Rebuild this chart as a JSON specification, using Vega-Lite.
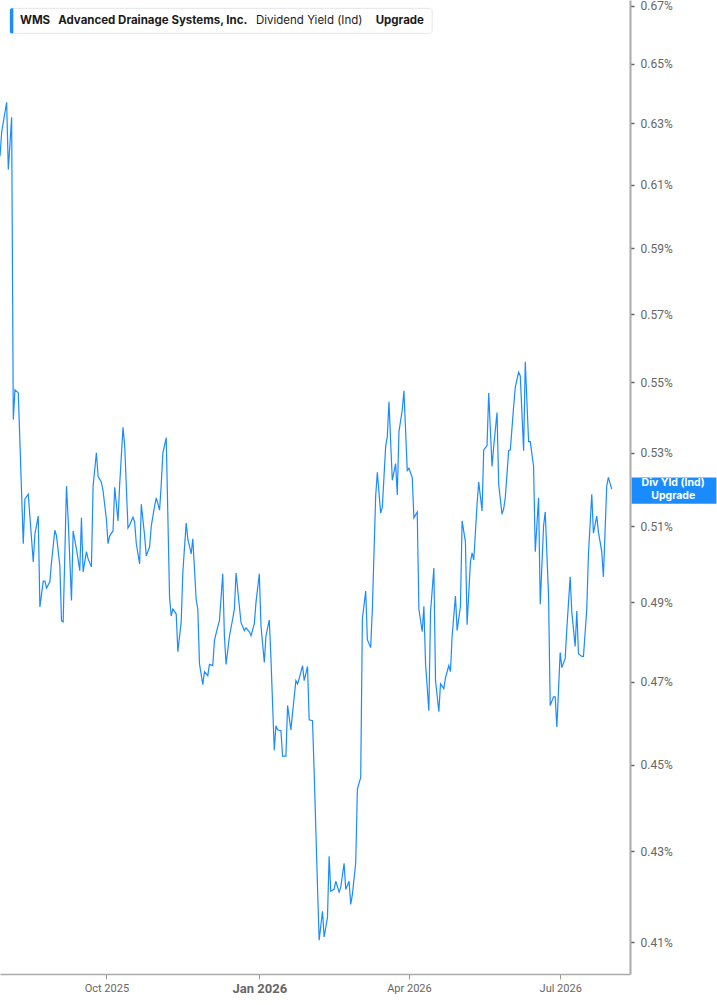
{
  "$schema": "https://vega.github.io/schema/vega-lite/v6.json",
  "width": 630,
  "height": 974,
  "autosize": {"type": "none"},
  "padding": {"left": 0, "top": 0, "right": 87, "bottom": 31},
  "background": "white",
  "config": {"view": {"stroke": null}, "font": "Roboto"},
  "data": {"values": [
    {"date":"2025-07-29","yield":0.6192},{"date":"2025-07-30","yield":0.6271},{"date":"2025-08-02","yield":0.6370},{"date":"2025-08-03","yield":0.6149},
    {"date":"2025-08-05","yield":0.6320},{"date":"2025-08-06","yield":0.5393},{"date":"2025-08-07","yield":0.5478},{"date":"2025-08-09","yield":0.5469},
    {"date":"2025-08-12","yield":0.5053},{"date":"2025-08-13","yield":0.5173},{"date":"2025-08-15","yield":0.5186},{"date":"2025-08-18","yield":0.5005},
    {"date":"2025-08-19","yield":0.5079},{"date":"2025-08-21","yield":0.5127},{"date":"2025-08-22","yield":0.4888},{"date":"2025-08-24","yield":0.4955},
    {"date":"2025-08-25","yield":0.4955},{"date":"2025-08-26","yield":0.4937},{"date":"2025-08-28","yield":0.4953},{"date":"2025-08-29","yield":0.5005},
    {"date":"2025-08-31","yield":0.5089},{"date":"2025-09-01","yield":0.5074},{"date":"2025-09-03","yield":0.4995},{"date":"2025-09-04","yield":0.4853},
    {"date":"2025-09-05","yield":0.4850},{"date":"2025-09-07","yield":0.5208},{"date":"2025-09-08","yield":0.5119},{"date":"2025-09-10","yield":0.4905},
    {"date":"2025-09-11","yield":0.5087},{"date":"2025-09-13","yield":0.5039},{"date":"2025-09-15","yield":0.4982},{"date":"2025-09-16","yield":0.5122},
    {"date":"2025-09-17","yield":0.4979},{"date":"2025-09-19","yield":0.5032},{"date":"2025-09-20","yield":0.5013},{"date":"2025-09-22","yield":0.4992},
    {"date":"2025-09-23","yield":0.5208},{"date":"2025-09-25","yield":0.5300},{"date":"2025-09-26","yield":0.5235},{"date":"2025-09-28","yield":0.5219},
    {"date":"2025-09-29","yield":0.5195},{"date":"2025-10-01","yield":0.5119},{"date":"2025-10-02","yield":0.5053},{"date":"2025-10-03","yield":0.5074},
    {"date":"2025-10-05","yield":0.5087},{"date":"2025-10-06","yield":0.5205},{"date":"2025-10-08","yield":0.5114},{"date":"2025-10-09","yield":0.5213},
    {"date":"2025-10-11","yield":0.5371},{"date":"2025-10-12","yield":0.5320},{"date":"2025-10-14","yield":0.5095},{"date":"2025-10-15","yield":0.5103},
    {"date":"2025-10-17","yield":0.5124},{"date":"2025-10-18","yield":0.5111},{"date":"2025-10-19","yield":0.5053},{"date":"2025-10-21","yield":0.5000},
    {"date":"2025-10-22","yield":0.5159},{"date":"2025-10-24","yield":0.5074},{"date":"2025-10-25","yield":0.5021},{"date":"2025-10-27","yield":0.5045},
    {"date":"2025-10-28","yield":0.5100},{"date":"2025-10-30","yield":0.5154},{"date":"2025-10-31","yield":0.5176},{"date":"2025-11-02","yield":0.5143},
    {"date":"2025-11-03","yield":0.5213},{"date":"2025-11-04","yield":0.5300},{"date":"2025-11-06","yield":0.5342},{"date":"2025-11-08","yield":0.4913},
    {"date":"2025-11-09","yield":0.4865},{"date":"2025-11-10","yield":0.4883},{"date":"2025-11-12","yield":0.4870},{"date":"2025-11-13","yield":0.4775},
    {"date":"2025-11-15","yield":0.4850},{"date":"2025-11-16","yield":0.4979},{"date":"2025-11-18","yield":0.5108},{"date":"2025-11-19","yield":0.5066},
    {"date":"2025-11-21","yield":0.5026},{"date":"2025-11-22","yield":0.5066},{"date":"2025-11-24","yield":0.4908},{"date":"2025-11-25","yield":0.4883},
    {"date":"2025-11-26","yield":0.4745},{"date":"2025-11-28","yield":0.4693},{"date":"2025-11-29","yield":0.4725},{"date":"2025-12-01","yield":0.4715},
    {"date":"2025-12-02","yield":0.4743},{"date":"2025-12-04","yield":0.4740},{"date":"2025-12-05","yield":0.4803},{"date":"2025-12-07","yield":0.4838},
    {"date":"2025-12-08","yield":0.4853},{"date":"2025-12-10","yield":0.4974},{"date":"2025-12-11","yield":0.4815},{"date":"2025-12-12","yield":0.4743},
    {"date":"2025-12-14","yield":0.4813},{"date":"2025-12-16","yield":0.4858},{"date":"2025-12-17","yield":0.4883},{"date":"2025-12-18","yield":0.4976},
    {"date":"2025-12-20","yield":0.4890},{"date":"2025-12-21","yield":0.4848},{"date":"2025-12-23","yield":0.4828},{"date":"2025-12-24","yield":0.4835},
    {"date":"2025-12-26","yield":0.4825},{"date":"2025-12-27","yield":0.4815},{"date":"2025-12-29","yield":0.4845},{"date":"2025-12-30","yield":0.4900},
    {"date":"2026-01-01","yield":0.4974},{"date":"2026-01-02","yield":0.4840},{"date":"2026-01-04","yield":0.4748},{"date":"2026-01-05","yield":0.4815},
    {"date":"2026-01-07","yield":0.4855},{"date":"2026-01-08","yield":0.4758},{"date":"2026-01-10","yield":0.4534},{"date":"2026-01-11","yield":0.4593},
    {"date":"2026-01-12","yield":0.4583},{"date":"2026-01-14","yield":0.4581},{"date":"2026-01-15","yield":0.4520},{"date":"2026-01-17","yield":0.4520},
    {"date":"2026-01-18","yield":0.4642},{"date":"2026-01-20","yield":0.4583},{"date":"2026-01-21","yield":0.4624},{"date":"2026-01-23","yield":0.4703},
    {"date":"2026-01-24","yield":0.4695},{"date":"2026-01-25","yield":0.4708},{"date":"2026-01-27","yield":0.4740},{"date":"2026-01-28","yield":0.4703},
    {"date":"2026-01-30","yield":0.4738},{"date":"2026-01-31","yield":0.4607},{"date":"2026-02-02","yield":0.4605},{"date":"2026-02-03","yield":0.4482},
    {"date":"2026-02-05","yield":0.4222},{"date":"2026-02-06","yield":0.4104},{"date":"2026-02-08","yield":0.4167},{"date":"2026-02-09","yield":0.4111},
    {"date":"2026-02-11","yield":0.4153},{"date":"2026-02-12","yield":0.4289},{"date":"2026-02-13","yield":0.4211},{"date":"2026-02-15","yield":0.4215},
    {"date":"2026-02-16","yield":0.4233},{"date":"2026-02-18","yield":0.4209},{"date":"2026-02-19","yield":0.4220},{"date":"2026-02-21","yield":0.4273},
    {"date":"2026-02-22","yield":0.4215},{"date":"2026-02-24","yield":0.4233},{"date":"2026-02-25","yield":0.4182},{"date":"2026-02-26","yield":0.4204},
    {"date":"2026-02-28","yield":0.4275},{"date":"2026-03-01","yield":0.4443},{"date":"2026-03-03","yield":0.4470},{"date":"2026-03-04","yield":0.4858},
    {"date":"2026-03-06","yield":0.4929},{"date":"2026-03-07","yield":0.4805},{"date":"2026-03-09","yield":0.4785},{"date":"2026-03-10","yield":0.4883},
    {"date":"2026-03-12","yield":0.5181},{"date":"2026-03-13","yield":0.5246},{"date":"2026-03-15","yield":0.5135},{"date":"2026-03-16","yield":0.5151},
    {"date":"2026-03-18","yield":0.5317},{"date":"2026-03-19","yield":0.5345},{"date":"2026-03-20","yield":0.5444},{"date":"2026-03-22","yield":0.5224},
    {"date":"2026-03-24","yield":0.5270},{"date":"2026-03-25","yield":0.5184},{"date":"2026-03-26","yield":0.5359},{"date":"2026-03-28","yield":0.5421},
    {"date":"2026-03-29","yield":0.5475},{"date":"2026-03-31","yield":0.5251},{"date":"2026-04-01","yield":0.5257},{"date":"2026-04-03","yield":0.5232},
    {"date":"2026-04-04","yield":0.5122},{"date":"2026-04-06","yield":0.5138},{"date":"2026-04-07","yield":0.4883},{"date":"2026-04-09","yield":0.4825},
    {"date":"2026-04-10","yield":0.4890},{"date":"2026-04-11","yield":0.4745},{"date":"2026-04-13","yield":0.4629},{"date":"2026-04-14","yield":0.4875},
    {"date":"2026-04-16","yield":0.4989},{"date":"2026-04-17","yield":0.4703},{"date":"2026-04-19","yield":0.4627},{"date":"2026-04-20","yield":0.4695},
    {"date":"2026-04-22","yield":0.4683},{"date":"2026-04-23","yield":0.4710},{"date":"2026-04-25","yield":0.4740},{"date":"2026-04-26","yield":0.4725},
    {"date":"2026-04-27","yield":0.4815},{"date":"2026-04-29","yield":0.4916},{"date":"2026-04-30","yield":0.4828},{"date":"2026-05-02","yield":0.4890},
    {"date":"2026-05-03","yield":0.5114},{"date":"2026-05-05","yield":0.5058},{"date":"2026-05-06","yield":0.4843},{"date":"2026-05-08","yield":0.5005},
    {"date":"2026-05-09","yield":0.5029},{"date":"2026-05-10","yield":0.5010},{"date":"2026-05-12","yield":0.5159},{"date":"2026-05-13","yield":0.5219},
    {"date":"2026-05-15","yield":0.5141},{"date":"2026-05-16","yield":0.5308},{"date":"2026-05-18","yield":0.5320},{"date":"2026-05-19","yield":0.5469},
    {"date":"2026-05-21","yield":0.5262},{"date":"2026-05-22","yield":0.5317},{"date":"2026-05-24","yield":0.5413},{"date":"2026-05-25","yield":0.5213},
    {"date":"2026-05-27","yield":0.5132},{"date":"2026-05-28","yield":0.5146},{"date":"2026-05-29","yield":0.5178},{"date":"2026-05-31","yield":0.5306},
    {"date":"2026-06-01","yield":0.5308},{"date":"2026-06-03","yield":0.5430},{"date":"2026-06-04","yield":0.5486},{"date":"2026-06-06","yield":0.5529},
    {"date":"2026-06-07","yield":0.5518},{"date":"2026-06-09","yield":0.5306},{"date":"2026-06-10","yield":0.5559},{"date":"2026-06-12","yield":0.5331},
    {"date":"2026-06-13","yield":0.5331},{"date":"2026-06-15","yield":0.5262},{"date":"2026-06-16","yield":0.5032},{"date":"2026-06-18","yield":0.5176},
    {"date":"2026-06-19","yield":0.4895},{"date":"2026-06-21","yield":0.5100},{"date":"2026-06-22","yield":0.5138},{"date":"2026-06-24","yield":0.4916},
    {"date":"2026-06-25","yield":0.4642},{"date":"2026-06-27","yield":0.4663},{"date":"2026-06-28","yield":0.4663},{"date":"2026-06-29","yield":0.4590},
    {"date":"2026-07-01","yield":0.4773},{"date":"2026-07-02","yield":0.4735},{"date":"2026-07-04","yield":0.4758},{"date":"2026-07-05","yield":0.4833},
    {"date":"2026-07-07","yield":0.4966},{"date":"2026-07-08","yield":0.4875},{"date":"2026-07-10","yield":0.4788},{"date":"2026-07-11","yield":0.4878},
    {"date":"2026-07-12","yield":0.4770},{"date":"2026-07-14","yield":0.4763},{"date":"2026-07-15","yield":0.4763},{"date":"2026-07-17","yield":0.4883},
    {"date":"2026-07-18","yield":0.5026},{"date":"2026-07-20","yield":0.5186},{"date":"2026-07-21","yield":0.5081},{"date":"2026-07-23","yield":0.5127},
    {"date":"2026-07-24","yield":0.5084},{"date":"2026-07-26","yield":0.5032},{"date":"2026-07-27","yield":0.4966},{"date":"2026-07-29","yield":0.5208},
    {"date":"2026-07-30","yield":0.5232},{"date":"2026-08-01","yield":0.5200}
  ]},
  "layer": [
    {
      "mark": {"type": "line", "color": "#1a8cff", "strokeWidth": 1.2},
      "encoding": {
        "x": {
          "field": "date", "type": "temporal",
          "scale": {
            "type": "utc", "nice": false,
            "domain": [
              {"year": 2025, "month": 7, "date": 29, "utc": true},
              {"year": 2026, "month": 8, "date": 12, "utc": true}
            ]
          },
          "axis": {
            "title": null, "grid": false,
            "values": [
              {"year": 2025, "month": 10, "date": 1, "utc": true},
              {"year": 2026, "month": 1, "date": 1, "utc": true},
              {"year": 2026, "month": 4, "date": 1, "utc": true},
              {"year": 2026, "month": 7, "date": 1, "utc": true}
            ],
            "labelExpr": "utcFormat(datum.value, '%b %Y')",
            "domainColor": "#aaaaaa", "domainWidth": 1.5,
            "tickColor": "#999999", "tickSize": 5,
            "labelColor": "#666666", "labelFont": "Roboto", "labelPadding": 3,
            "labelFontSize": {"condition": {"test": "utcmonth(datum.value) === 0", "value": 13}, "value": 11},
            "labelFontWeight": {"condition": {"test": "utcmonth(datum.value) === 0", "value": "bold"}, "value": "normal"}
          }
        },
        "y": {
          "field": "yield", "type": "quantitative",
          "scale": {"type": "log", "domain": [0.4032, 0.6721], "nice": false, "zero": false},
          "axis": {
            "title": null, "grid": false, "orient": "right",
            "values": [0.41, 0.43, 0.45, 0.47, 0.49, 0.51, 0.53, 0.55, 0.57, 0.59, 0.61, 0.63, 0.65, 0.67],
            "labelExpr": "format(datum.value, '.2f') + '%'",
            "domainColor": "#aaaaaa", "domainWidth": 2,
            "tickColor": "#666666", "tickSize": 4, "tickWidth": 1.5,
            "labelColor": "#666666", "labelFont": "Roboto", "labelFontSize": 12, "labelPadding": 6
          }
        }
      }
    },
    {
      "data": {"values": [{}]},
      "mark": {"type": "rect", "fill": "white", "stroke": "#e4e6ea", "strokeWidth": 1, "cornerRadius": 3},
      "encoding": {
        "x": {"datum": {"year": 2025, "month": 8, "date": 4, "utc": true}, "type": "temporal"},
        "x2": {"datum": {"year": 2026, "month": 4, "date": 15, "utc": true}},
        "y": {"datum": 0.66916, "type": "quantitative"},
        "y2": {"datum": 0.66045}
      }
    },
    {
      "data": {"values": [{}]},
      "mark": {"type": "rect", "fill": "#1a8cff", "cornerRadiusTopLeft": 3, "cornerRadiusBottomLeft": 3},
      "encoding": {
        "x": {"datum": {"year": 2025, "month": 8, "date": 4, "utc": true}, "type": "temporal"},
        "x2": {"datum": {"year": 2025, "month": 8, "date": 6, "utc": true}},
        "y": {"datum": 0.66916, "type": "quantitative"},
        "y2": {"datum": 0.66045}
      }
    },
    {
      "data": {"values": [{}]},
      "mark": {"type": "text", "text": "WMS", "align": "left", "baseline": "middle", "font": "Inter", "fontSize": 11.5, "fontWeight": "bold", "color": "#1a1a1a"},
      "encoding": {
        "x": {"datum": {"year": 2025, "month": 8, "date": 10, "utc": true}, "type": "temporal"},
        "y": {"datum": 0.66483, "type": "quantitative"}
      }
    },
    {
      "data": {"values": [{}]},
      "mark": {"type": "text", "text": "Advanced Drainage Systems, Inc.", "align": "left", "baseline": "middle", "font": "Inter", "fontSize": 11.5, "fontWeight": "bold", "color": "#1a1a1a"},
      "encoding": {
        "x": {"datum": {"year": 2025, "month": 9, "date": 2, "utc": true}, "type": "temporal"},
        "y": {"datum": 0.66483, "type": "quantitative"}
      }
    },
    {
      "data": {"values": [{}]},
      "mark": {"type": "text", "text": "Dividend Yield (Ind)", "align": "left", "baseline": "middle", "font": "Inter", "fontSize": 11.5, "fontWeight": "normal", "color": "#1a1a1a"},
      "encoding": {
        "x": {"datum": {"year": 2025, "month": 12, "date": 30, "utc": true}, "type": "temporal"},
        "y": {"datum": 0.66483, "type": "quantitative"}
      }
    },
    {
      "data": {"values": [{}]},
      "mark": {"type": "text", "text": "Upgrade", "align": "left", "baseline": "middle", "font": "Inter", "fontSize": 11.5, "fontWeight": "bold", "color": "#1a1a1a"},
      "encoding": {
        "x": {"datum": {"year": 2026, "month": 3, "date": 12, "utc": true}, "type": "temporal"},
        "y": {"datum": 0.66483, "type": "quantitative"}
      }
    },
    {
      "data": {"values": [{}]},
      "mark": {"type": "rect", "fill": "#1a8cff"},
      "encoding": {
        "x": {"datum": {"year": 2026, "month": 8, "date": 13, "utc": true}, "type": "temporal"},
        "x2": {"datum": {"year": 2026, "month": 10, "date": 3, "utc": true}},
        "y": {"datum": 0.5232, "type": "quantitative"},
        "y2": {"datum": 0.5160}
      }
    },
    {
      "data": {"values": [{}]},
      "mark": {"type": "text", "text": ["Div Yld (Ind)", "Upgrade"], "align": "center", "baseline": "middle", "lineHeight": 12.5, "font": "Inter", "fontSize": 10.5, "fontWeight": "bold", "color": "white"},
      "encoding": {
        "x": {"datum": {"year": 2026, "month": 9, "date": 7, "utc": true}, "type": "temporal"},
        "y": {"datum": 0.5216, "type": "quantitative"}
      }
    }
  ]
}
